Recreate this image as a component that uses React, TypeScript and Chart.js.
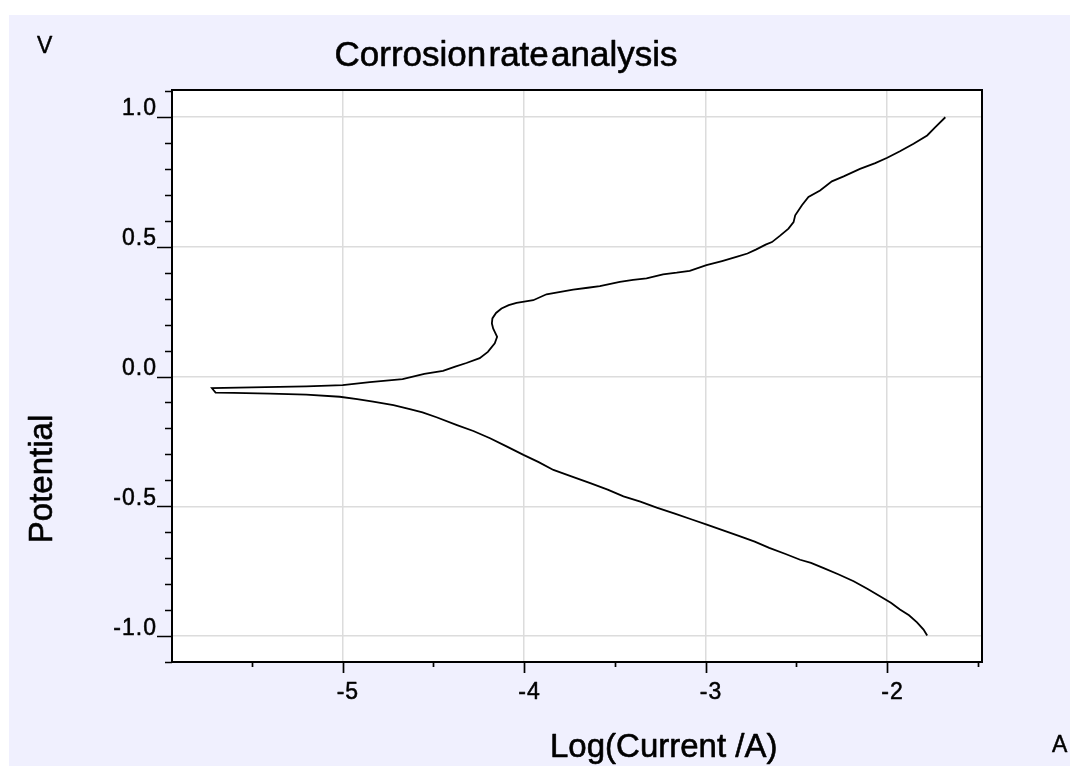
import React, { useEffect, useRef } from 'react';
import { Chart, registerables } from 'chart.js';

Chart.register(...registerables);

// Scan from -1.0 V (cathodic branch) to the tip, then up the anodic branch to +1.0 V
const logCurrent = [
  -1.78, -1.80, -1.836, -1.88, -1.93, -1.98, -2.04, -2.11, -2.185, -2.27, -2.35, -2.42, -2.48, -2.56,
  -2.65, -2.73, -2.81, -2.90, -2.994, -3.08, -3.17, -3.27, -3.36, -3.453, -3.54, -3.636, -3.74, -3.839,
  -3.92, -4.004, -4.10, -4.188, -4.28, -4.37, -4.483, -4.56, -4.63, -4.72, -4.832, -4.92, -5.016, -5.2,
  -5.4, -5.6, -5.70,
  -5.72, -5.5, -5.2, -5.0, -4.85, -4.67, -4.55, -4.447, -4.38, -4.318, -4.245, -4.20, -4.162, -4.149,
  -4.162, -4.171, -4.178, -4.175, -4.155, -4.125, -4.085, -4.042, -3.95, -3.877, -3.80, -3.73, -3.65,
  -3.583, -3.473, -3.40, -3.326, -3.235, -3.16, -3.088, -2.996, -2.91, -2.831, -2.77, -2.721, -2.67,
  -2.635, -2.59, -2.544, -2.516, -2.507, -2.47, -2.434, -2.37, -2.305, -2.24, -2.15, -2.066, -2.0,
  -1.93, -1.855, -1.78, -1.735, -1.68,
];
const potential = [
  -0.998, -0.975, -0.947, -0.92, -0.898, -0.872, -0.847, -0.818, -0.789, -0.762, -0.738, -0.718, -0.706, -0.684,
  -0.66, -0.636, -0.616, -0.594, -0.571, -0.55, -0.528, -0.505, -0.482, -0.462, -0.436, -0.411, -0.385, -0.36,
  -0.33, -0.302, -0.268, -0.238, -0.21, -0.187, -0.157, -0.138, -0.126, -0.11, -0.097, -0.087, -0.078, -0.070,
  -0.066, -0.063, -0.062,
  -0.045, -0.042, -0.038, -0.033, -0.022, -0.01, 0.010, 0.022, 0.038, 0.052, 0.071, 0.095, 0.128, 0.153,
  0.172, 0.185, 0.205, 0.224, 0.245, 0.262, 0.275, 0.284, 0.294, 0.317, 0.326, 0.335, 0.342,
  0.348, 0.365, 0.372, 0.378, 0.394, 0.400, 0.407, 0.429, 0.445, 0.461, 0.474, 0.49, 0.508,
  0.518, 0.543, 0.57, 0.595, 0.621, 0.66, 0.692, 0.717, 0.752, 0.771, 0.80, 0.822, 0.843,
  0.868, 0.897, 0.929, 0.961, 0.999,
];

const xMajorTicks = [-5, -4, -3, -2];
const xTickLabels = ['-5', '-4', '-3', '-2'];
const xMinorTicks = [-5.5, -4.5, -3.5, -2.5, -1.5];
const yMajorTicks = [-1.0, -0.5, 0.0, 0.5, 1.0];
const yTickLabels = ['-1.0', '-0.5', '0.0', '0.5', '1.0'];
const yMinorTicks = [-1.1, -0.9, -0.8, -0.7, -0.6, -0.4, -0.3, -0.2, -0.1, 0.1, 0.2, 0.3, 0.4, 0.6, 0.7, 0.8, 0.9, 1.1];

const titleText = 'Corrosion rate analysis';
const xTitle = 'Log(Current /A)';
const yTitle = 'Potential';
const yUnit = 'V';
const xUnit = 'A';

const FONT = '"Liberation Sans", Arial, sans-serif';

function heavyText(ctx: CanvasRenderingContext2D, s: string, x: number, y: number, w: number) {
  ctx.fillText(s, x, y);
  ctx.lineWidth = w;
  ctx.strokeText(s, x, y);
}

const decor = {
  id: 'decor',
  beforeDraw(chart: any) {
    const { ctx, chartArea: a } = chart;
    ctx.save();
    ctx.fillStyle = '#ffffff';
    ctx.fillRect(a.left, a.top, a.right - a.left, a.bottom - a.top);
    ctx.restore();
  },
  afterDraw(chart: any) {
    const { ctx, chartArea: a } = chart;
    const xs = chart.scales.x;
    const ys = chart.scales.y;
    ctx.save();
    // frame
    ctx.strokeStyle = '#000';
    ctx.lineWidth = 2;
    ctx.strokeRect(a.left, a.top, a.right - a.left, a.bottom - a.top);
    // ticks
    ctx.lineWidth = 1.7;
    ctx.beginPath();
    yMajorTicks.forEach((v) => {
      const p = Math.round(ys.getPixelForValue(v)) + 0.5;
      ctx.moveTo(a.left - 15, p);
      ctx.lineTo(a.left, p);
    });
    yMinorTicks.forEach((v) => {
      const p = Math.round(ys.getPixelForValue(v)) + 0.5;
      ctx.moveTo(a.left - 7, p);
      ctx.lineTo(a.left, p);
    });
    xMajorTicks.forEach((v) => {
      const p = Math.round(xs.getPixelForValue(v)) + 0.5;
      ctx.moveTo(p, a.bottom);
      ctx.lineTo(p, a.bottom + 11);
    });
    xMinorTicks.forEach((v) => {
      const p = Math.round(xs.getPixelForValue(v)) + 0.5;
      ctx.moveTo(p, a.bottom);
      ctx.lineTo(p, a.bottom + 5);
    });
    ctx.stroke();

    // tick labels
    ctx.fillStyle = '#000';
    ctx.strokeStyle = '#000';
    ctx.lineJoin = 'round';
    ctx.font = `23px ${FONT}`;
    (ctx as any).letterSpacing = '1px';
    ctx.textBaseline = 'alphabetic';
    ctx.textAlign = 'right';
    yMajorTicks.forEach((v, i) => {
      const p = ys.getPixelForValue(v);
      heavyText(ctx, yTickLabels[i], a.left - 15, p - 1.5, 0.5);
    });
    ctx.textAlign = 'center';
    xMajorTicks.forEach((v, i) => {
      const p = xs.getPixelForValue(v);
      heavyText(ctx, xTickLabels[i], p + 5.3, a.bottom + 37, 0.5);
    });
    (ctx as any).letterSpacing = '0px';

    // title
    ctx.font = `35px ${FONT}`;
    (ctx as any).wordSpacing = '-7.5px';
    ctx.textAlign = 'center';
    heavyText(ctx, titleText, 497, 51, 0.6);
    (ctx as any).wordSpacing = '0px';

    // axis titles
    ctx.font = `33px ${FONT}`;
    ctx.textAlign = 'left';
    heavyText(ctx, xTitle, 541, 742, 0.6);
    ctx.save();
    ctx.translate(43, 464);
    ctx.rotate(-Math.PI / 2);
    ctx.textAlign = 'center';
    heavyText(ctx, yTitle, 0, 0, 0.6);
    ctx.restore();

    // units
    ctx.font = `23px ${FONT}`;
    ctx.textAlign = 'left';
    heavyText(ctx, yUnit, 28, 38, 0.5);
    heavyText(ctx, xUnit, 1043, 737, 0.5);
    ctx.restore();
  },
};

export default function App() {
  const ref = useRef<HTMLCanvasElement>(null);
  useEffect(() => {
    if (!ref.current) return;
    const points = logCurrent.map((x, i) => ({ x, y: potential[i] }));
    const chart = new Chart(ref.current, {
      type: 'scatter',
      data: {
        datasets: [
          {
            data: points,
            showLine: true,
            borderColor: '#000',
            borderWidth: 1.8,
            pointRadius: 0,
            tension: 0,
            fill: false,
          },
        ],
      },
      options: {
        responsive: false,
        animation: false,
        devicePixelRatio: 1,
        layout: { padding: { left: 0, top: 75, right: 96, bottom: 0 } },
        plugins: { legend: { display: false }, tooltip: { enabled: false }, title: { display: false } },
        scales: {
          x: {
            type: 'linear',
            min: -5.94,
            max: -1.478,
            ticks: { display: false },
            grid: { color: '#dcdcdc', lineWidth: 1.5, drawTicks: false },
            border: { display: false },
            afterBuildTicks: (s: any) => {
              s.ticks = xMajorTicks.map((value) => ({ value }));
            },
            afterFit: (s: any) => {
              s.height = 104;
            },
          },
          y: {
            type: 'linear',
            min: -1.1,
            max: 1.104,
            ticks: { display: false },
            grid: { color: '#dcdcdc', lineWidth: 1.5, drawTicks: false },
            border: { display: false },
            afterBuildTicks: (s: any) => {
              s.ticks = yMajorTicks.map((value) => ({ value }));
            },
            afterFit: (s: any) => {
              s.width = 163;
            },
          },
        },
      },
      plugins: [decor],
    });
    return () => chart.destroy();
  }, []);
  return (
    <div style={{ padding: '7px 0 0 1px' }}>
      <div style={{ width: 1069, height: 751, background: '#f0f0fe' }}>
        <canvas ref={ref} width={1069} height={751} style={{ display: 'block', width: 1069, height: 751 }} />
      </div>
    </div>
  );
}
